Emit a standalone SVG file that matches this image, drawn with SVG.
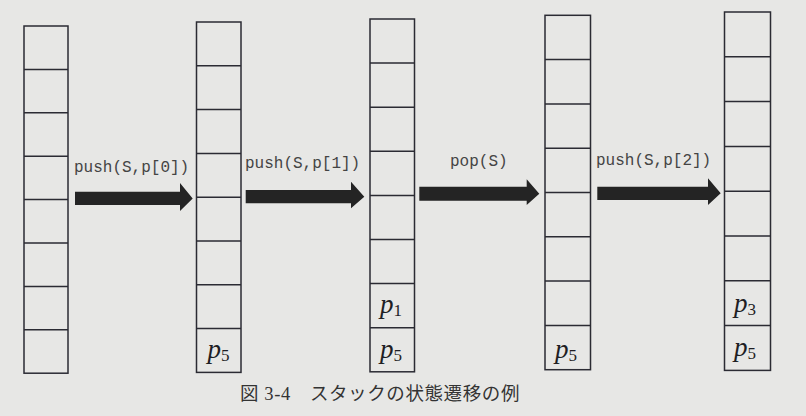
<svg xmlns="http://www.w3.org/2000/svg" width="806" height="416" viewBox="0 0 806 416">
<style>
.bg{fill:#e7e7e5}
.cell{fill:none;stroke:#2b2b33;stroke-width:1.5}
.ln{stroke:#2b2b33;stroke-width:1.5}
.arr{fill:#242424}
.lbl{font-family:"Liberation Mono","Courier New",monospace;font-size:16px;fill:#444}
.pv{font-family:"Liberation Serif","Times New Roman",serif;font-size:27px;fill:#1e1e24;text-anchor:middle}
.pv .sub{font-size:17px;font-style:normal}
.cap{font-family:"Liberation Serif","Noto Sans CJK JP",serif;font-size:18.5px;letter-spacing:0.6px;fill:#333}
</style>
<rect class="bg" x="0" y="0" width="806" height="416"/>

<g id="stack0">
<rect class="cell" x="24" y="26" width="44" height="347.2"/>
<path class="ln" d="M24 69.4H68M24 112.8H68M24 156.2H68M24 199.6H68M24 243H68M24 286.4H68M24 329.8H68"/>
</g>

<g id="stack1">
<rect class="cell" x="196.5" y="22" width="44.5" height="350.4"/>
<path class="ln" d="M196.5 65.8H241M196.5 109.6H241M196.5 153.4H241M196.5 197.2H241M196.5 241H241M196.5 284.8H241M196.5 328.6H241"/>
<text class="pv" x="218.5" y="358"><tspan font-style="italic">p</tspan><tspan class="sub" dy="3">5</tspan></text>
</g>

<g id="stack2">
<rect class="cell" x="370" y="19" width="44.5" height="352.8"/>
<path class="ln" d="M370 63.1H414.5M370 107.2H414.5M370 151.3H414.5M370 195.4H414.5M370 239.5H414.5M370 283.6H414.5M370 327.7H414.5"/>
<text class="pv" x="391" y="313"><tspan font-style="italic">p</tspan><tspan class="sub" dy="3">1</tspan></text>
<text class="pv" x="391" y="358"><tspan font-style="italic">p</tspan><tspan class="sub" dy="3">5</tspan></text>
</g>

<g id="stack3">
<rect class="cell" x="545" y="15.3" width="45.5" height="354.4"/>
<path class="ln" d="M545 59.6H590.5M545 103.9H590.5M545 148.2H590.5M545 192.5H590.5M545 236.8H590.5M545 281.1H590.5M545 325.4H590.5"/>
<text class="pv" x="566" y="358"><tspan font-style="italic">p</tspan><tspan class="sub" dy="3">5</tspan></text>
</g>

<g id="stack4">
<rect class="cell" x="724.5" y="12" width="46" height="358.4"/>
<path class="ln" d="M724.5 56.8H770.5M724.5 101.6H770.5M724.5 146.4H770.5M724.5 191.2H770.5M724.5 236H770.5M724.5 280.8H770.5M724.5 325.6H770.5"/>
<text class="pv" x="745" y="311.5"><tspan font-style="italic">p</tspan><tspan class="sub" dy="3">3</tspan></text>
<text class="pv" x="745" y="355.5"><tspan font-style="italic">p</tspan><tspan class="sub" dy="3">5</tspan></text>
</g>

<g id="connectors">
<polygon class="arr" points="75,191.7 180,191.7 180,183 192.7,198.4 180,211 180,205 75,205"/>
<text class="lbl" x="74" y="172">push(S,p[0])</text>
<polygon class="arr" points="245.7,190 351,190 351,181.7 364.3,196.7 351,208.3 351,203.3 245.7,203.3"/>
<text class="lbl" x="245" y="168">push(S,p[1])</text>
<polygon class="arr" points="419.3,186.7 526.7,186.7 526.7,179.3 539.3,193.7 526.7,205 526.7,200.7 419.3,200.7"/>
<text class="lbl" x="450" y="166">pop(S)</text>
<polygon class="arr" points="597.3,186.7 708,186.7 708,178.3 720.7,193.3 708,205 708,200 597.3,200"/>
<text class="lbl" x="596" y="165">push(S,p[2])</text>
</g>

<text class="cap" x="240" y="400">図 3-4　スタックの状態遷移の例</text>
</svg>
